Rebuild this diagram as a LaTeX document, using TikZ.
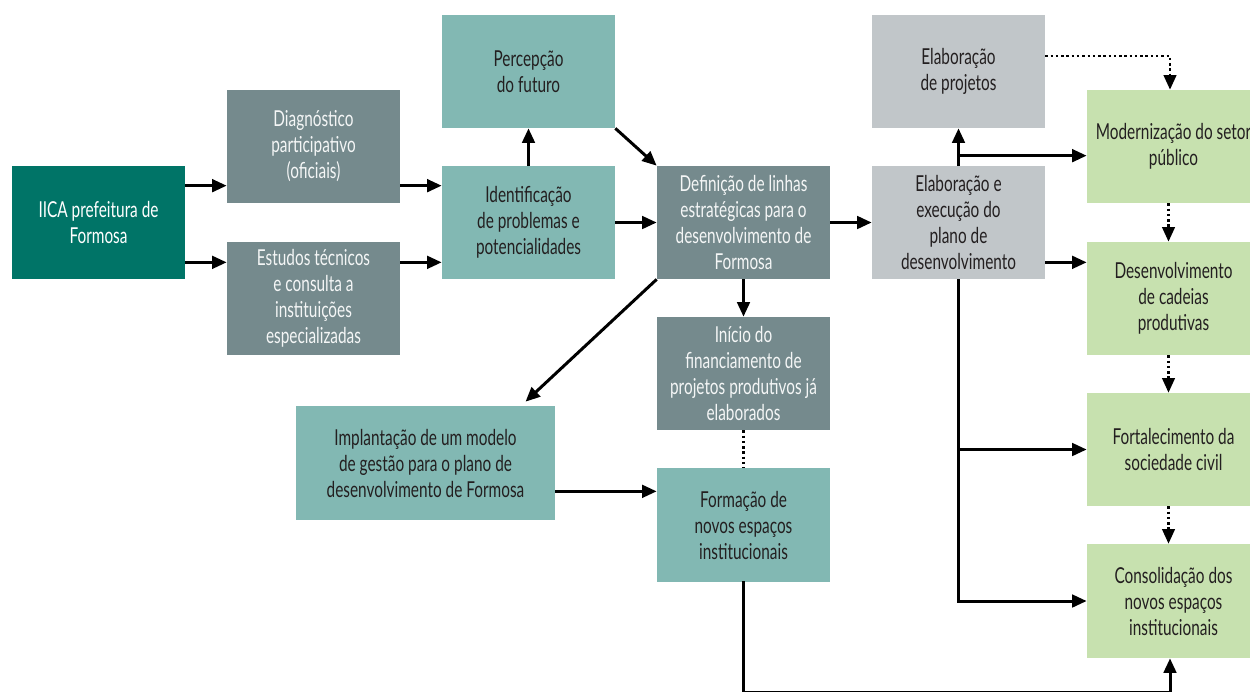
\documentclass[tikz,border=0pt]{standalone}
\usepackage{fontspec}
\setmainfont{Lato}[FakeStretch=0.7]
\usetikzlibrary{arrows.meta, positioning, calc}
\definecolor{tealdark}{HTML}{007467}
\definecolor{graytl}{HTML}{758A8D}
\definecolor{teallight}{HTML}{82B8B3}
\definecolor{graylight}{HTML}{C1C6C9}
\definecolor{greenlight}{HTML}{C7E1AF}
\definecolor{txtdark}{HTML}{231F20}

\begin{document}
\begin{tikzpicture}[x=0.02cm, y=-0.02cm,
    box/.style={minimum width=3.46cm, minimum height=2.26cm, inner sep=0pt,
        align=center, font=\fontsize{12.5}{14.8}\selectfont,
        execute at begin node={\rule{0pt}{12pt}}},
    darkbox/.style={box, fill=tealdark, text=white},
    graybox/.style={box, fill=graytl, text=white!92!graytl},
    tealbox/.style={box, fill=teallight, text=txtdark},
    lightbox/.style={box, fill=graylight, text=txtdark},
    greenbox/.style={box, fill=greenlight, text=txtdark},
    arr/.style={line width=1.7pt, -{Triangle[length=0.29cm, width=0.25cm]}},
    dotline/.style={line width=1.4pt, dash pattern=on 1.4pt off 1.6pt},
    arrdot/.style={dotline, -{Triangle[length=0.29cm, width=0.25cm]}}]
\useasboundingbox (0,0) rectangle (1250,691);

% left column
\node[darkbox] (iica) at (98.5,222.5) {IICA prefeitura de\\Formosa};
\node[graybox] (diag) at (313.5,146.5) {Diagnóstico\\participativo\\(oficiais)};
\node[graybox] (estudos) at (313.5,298.5) {Estudos técnicos\\e consulta a\\instituições\\especializadas};

% middle
\node[tealbox] (percep) at (528.5,71.5) {Percepção\\do futuro};
\node[tealbox] (ident) at (528.5,222.5) {Identificação\\de problemas e\\potencialidades};
\node[graybox] (def) at (743.5,222.5) {Definição de linhas\\estratégicas para o\\desenvolvimento de\\Formosa};
\node[graybox] (inicio) at (743.5,373.5) {Início do\\financiamento de\\projetos produtivos já\\elaborados};
\node[tealbox, minimum width=5.18cm, minimum height=2.28cm] (implant) at (425.5,463)
    {Implantação de um modelo\\de gestão para o plano de\\desenvolvimento de Formosa};
\node[tealbox, minimum height=2.28cm] (formacao) at (743.5,525) {Formação de\\novos espaços\\institucionais};

% right
\node[lightbox] (elabproj) at (958.5,71.5) {Elaboração\\de projetos};
\node[lightbox] (elabexec) at (958.5,222.5) {Elaboração e\\execução do\\plano de\\desenvolvimento};
\node[greenbox] (modern) at (1173.5,146.5) {Modernização do setor\\público};
\node[greenbox] (desenv) at (1173.5,298.5) {Desenvolvimento\\de cadeias\\produtivas};
\node[greenbox] (fortal) at (1173.5,449.5) {Fortalecimento da\\sociedade civil};
\node[greenbox, minimum height=2.28cm] (consol) at (1173.5,601) {Consolidação dos\\novos espaços\\institucionais};

% arrows on the left
\coordinate (i1) at ($(iica.north east)+(0,20)$);
\coordinate (i2) at ($(iica.south east)+(0,-17)$);
\draw[arr] (i1) -- (i1 -| diag.west);
\draw[arr] (i2) -- (i2 -| estudos.west);
\draw[arr] (i1 -| diag.east) -- (i1 -| ident.west);
\draw[arr] (i2 -| estudos.east) -- (i2 -| ident.west);
\draw[arr] (ident) -- (percep);
\draw[arr] (ident) -- (def);
\draw[arr] (percep.south east) -- (def.north west);

% from the strategic lines
\coordinate (im0) at ($(implant.north)+(100,-4)$);
\draw[arr] (def.south west) -- (im0);
\draw[arr] (def) -- (inicio);
\draw[dotline] (inicio) -- (formacao);
\coordinate (im1) at ($(implant.south east)+(0,-29)$);
\draw[arr] (im1) -- (im1 -| formacao.west);
\draw[arr] (def) -- (elabexec);

% plan execution
\coordinate (br) at ($(elabexec.north)+(0,-10)$);
\draw[arr] (elabexec) -- (elabproj);
\draw[arr] (br) -- (br -| modern.west);
\coordinate (e2) at ($(elabexec.south east)+(0,-17)$);
\draw[arr] (e2) -- (e2 -| desenv.west);
\draw[arr] (elabexec.south) |- (fortal.west);
\draw[arr] (elabexec.south) |- (consol.west);

% dotted chain on the right
\coordinate (ep) at ($(elabproj.east)+(0,-15.5)$);
\draw[arrdot] (ep) -| ([xshift=-0.07cm]modern.north);
\draw[arrdot] ([xshift=-0.1cm]modern.south) -- ([xshift=-0.1cm]desenv.north);
\draw[arrdot] ([xshift=-0.1cm]desenv.south) -- ([xshift=-0.1cm]fortal.north);
\draw[arrdot] ([xshift=-0.1cm]fortal.south) -- ([xshift=-0.1cm]consol.north);

% bottom return line
\coordinate (bot) at (0,692.3);
\draw[arr, line cap=rect] (formacao.south) -- (formacao.south |- bot) -| ([xshift=-0.07cm]consol.south);
\end{tikzpicture}
\end{document}
